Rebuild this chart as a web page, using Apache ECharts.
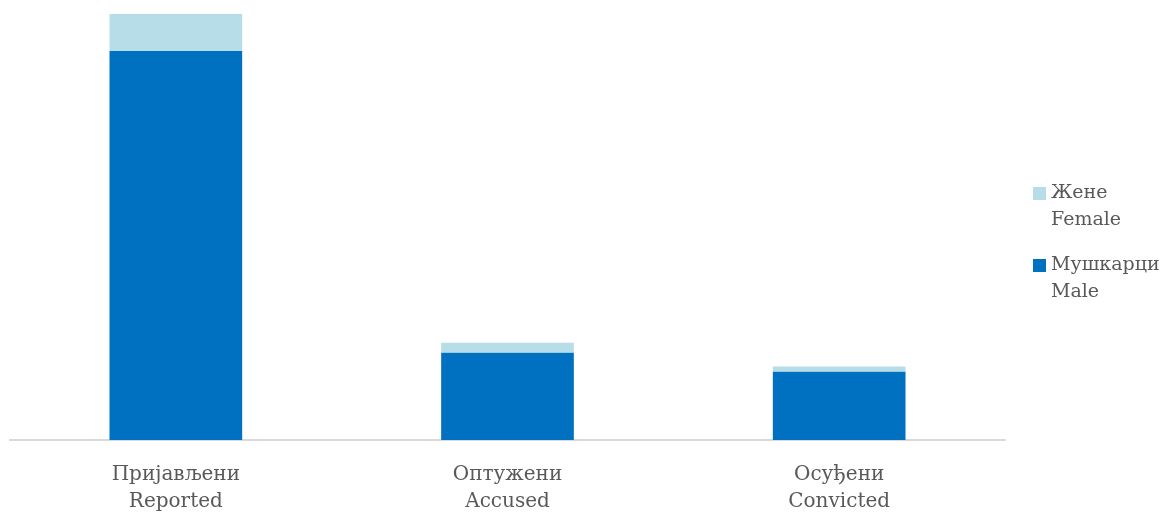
<!DOCTYPE html>
<html><head><meta charset="utf-8">
<script src="https://cdn.jsdelivr.net/npm/echarts@6/dist/echarts.min.js"></script>
<style>html,body{margin:0;padding:0;background:#fff}#c{width:1172px;height:515px}</style>
</head><body><div id="c"></div>
<script>
const categories = ['Пријављени\nReported', 'Оптужени\nAccused', 'Осуђени\nConvicted'];
const maleName = 'Мушкарци\nMale';
const femaleName = 'Жене\nFemale';
const maleValues = [78400, 17600, 13800];
const femaleValues = [7400, 2000, 1000];

const totals = maleValues.map((v, i) => v + femaleValues[i]);
const yMax = Math.max(...totals);
const font = 'DejaVu Serif';
const legendIcon = 'path://M0,0h13v13h-13z M0,40h0.01v0.01h-0.01z';
const chart = echarts.init(document.getElementById('c'));
chart.setOption({
  animation: false,
  grid: { left: 10, right: 167, top: 14, bottom: 72 },
  legend: {
    orient: 'vertical', left: 1028, top: 175, padding: 5,
    data: [femaleName, maleName],
    icon: legendIcon, itemWidth: 13, itemHeight: 40, itemGap: 18,
    textStyle: { fontFamily: font, fontSize: 19, color: '#595959', lineHeight: 27 }
  },
  xAxis: {
    type: 'category', data: categories,
    axisLine: { lineStyle: { color: '#d9d9d9', width: 2 } },
    axisTick: { show: false },
    axisLabel: { fontFamily: font, fontSize: 20, color: '#595959', lineHeight: 27, margin: 21 }
  },
  yAxis: { type: 'value', min: 0, max: yMax, show: false, splitLine: { show: false } },
  series: [
    { name: maleName, type: 'bar', stack: 't', data: maleValues, barCategoryGap: '60%',
      itemStyle: { color: '#0070c0' } },
    { name: femaleName, type: 'bar', stack: 't', data: femaleValues,
      itemStyle: { color: '#b7dde8' } }
  ]
});
</script></body></html>
